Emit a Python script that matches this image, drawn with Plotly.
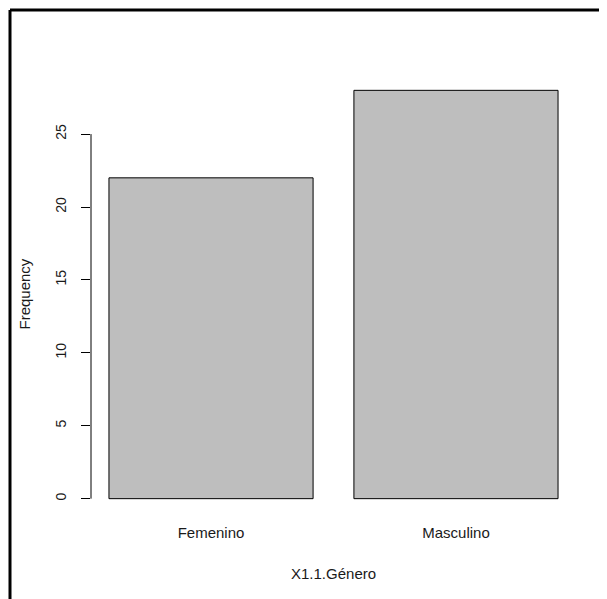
import plotly.graph_objects as go

categories = ["Femenino", "Masculino"]
frequencies = [22, 28]
bar_centers = [0.7, 1.9]
y_ticks = [0, 5, 10, 15, 20, 25]

OFF = 8  # page body margin
W, H = 607 - OFF, 599 - OFF
L, R, T, B = 91 - OFF, 31, 74 - OFF, 84
pw, ph = W - L - R, H - T - B

font = dict(family="Liberation Sans, Arial, sans-serif", size=15, color="#1a1a1a")
tfont = dict(family="Liberation Sans, Arial, sans-serif", size=14, color="#1a1a1a")

fig = go.Figure()
fig.add_trace(go.Bar(
    x=bar_centers, y=frequencies, width=1.0,
    marker=dict(color="#bebebe", line=dict(color="black", width=1)),
    hoverinfo="skip",
))

fx = 10 - OFF  # frame position in figure px
fy = 10 - OFF

fig.update_layout(
    width=W, height=H,
    margin=dict(l=L, r=R, t=T, b=B, pad=0),
    paper_bgcolor="white", plot_bgcolor="white",
    showlegend=False,
    font=font,
    xaxis=dict(range=[0.112, 2.488], tickvals=bar_centers, ticktext=categories,
               showgrid=False, zeroline=False, showline=False, ticks="",
               ticklabelstandoff=7, tickfont=font, fixedrange=True),
    yaxis=dict(range=[-1.12, 29.12], tickvals=y_ticks, ticktext=[str(v) for v in y_ticks],
               showgrid=False, zeroline=False, showline=False, ticks="outside",
               ticklen=9, tickwidth=1, tickcolor="black", tickangle=-90,
               ticklabelstandoff=9, tickfont=tfont, fixedrange=True),
    shapes=[
        dict(type="line", xref="paper", yref="y", x0=0, x1=0, y0=0, y1=25,
             line=dict(color="black", width=1)),
        dict(type="line", xref="paper", yref="paper",
             x0=(fx - L) / pw, x1=(fx - L) / pw, y0=1 + (T - fy) / ph, y1=-(B + 5) / ph,
             line=dict(color="black", width=3)),
        dict(type="line", xref="paper", yref="paper",
             x0=(fx - L) / pw, x1=1 + (R + 5) / pw, y0=1 + (T - fy) / ph, y1=1 + (T - fy) / ph,
             line=dict(color="black", width=3)),
    ],
    annotations=[
        dict(text="X1.1.Género", xref="paper", yref="paper", x=0.5, y=-(573 - 515) / ph,
             showarrow=False, font=font, xanchor="center", yanchor="middle"),
        dict(text="Frequency", xref="paper", yref="paper", x=(24 - 91) / pw, y=0.5,
             showarrow=False, font=font, textangle=-90, xanchor="center", yanchor="middle"),
    ],
)

fig.write_html("out.html")
